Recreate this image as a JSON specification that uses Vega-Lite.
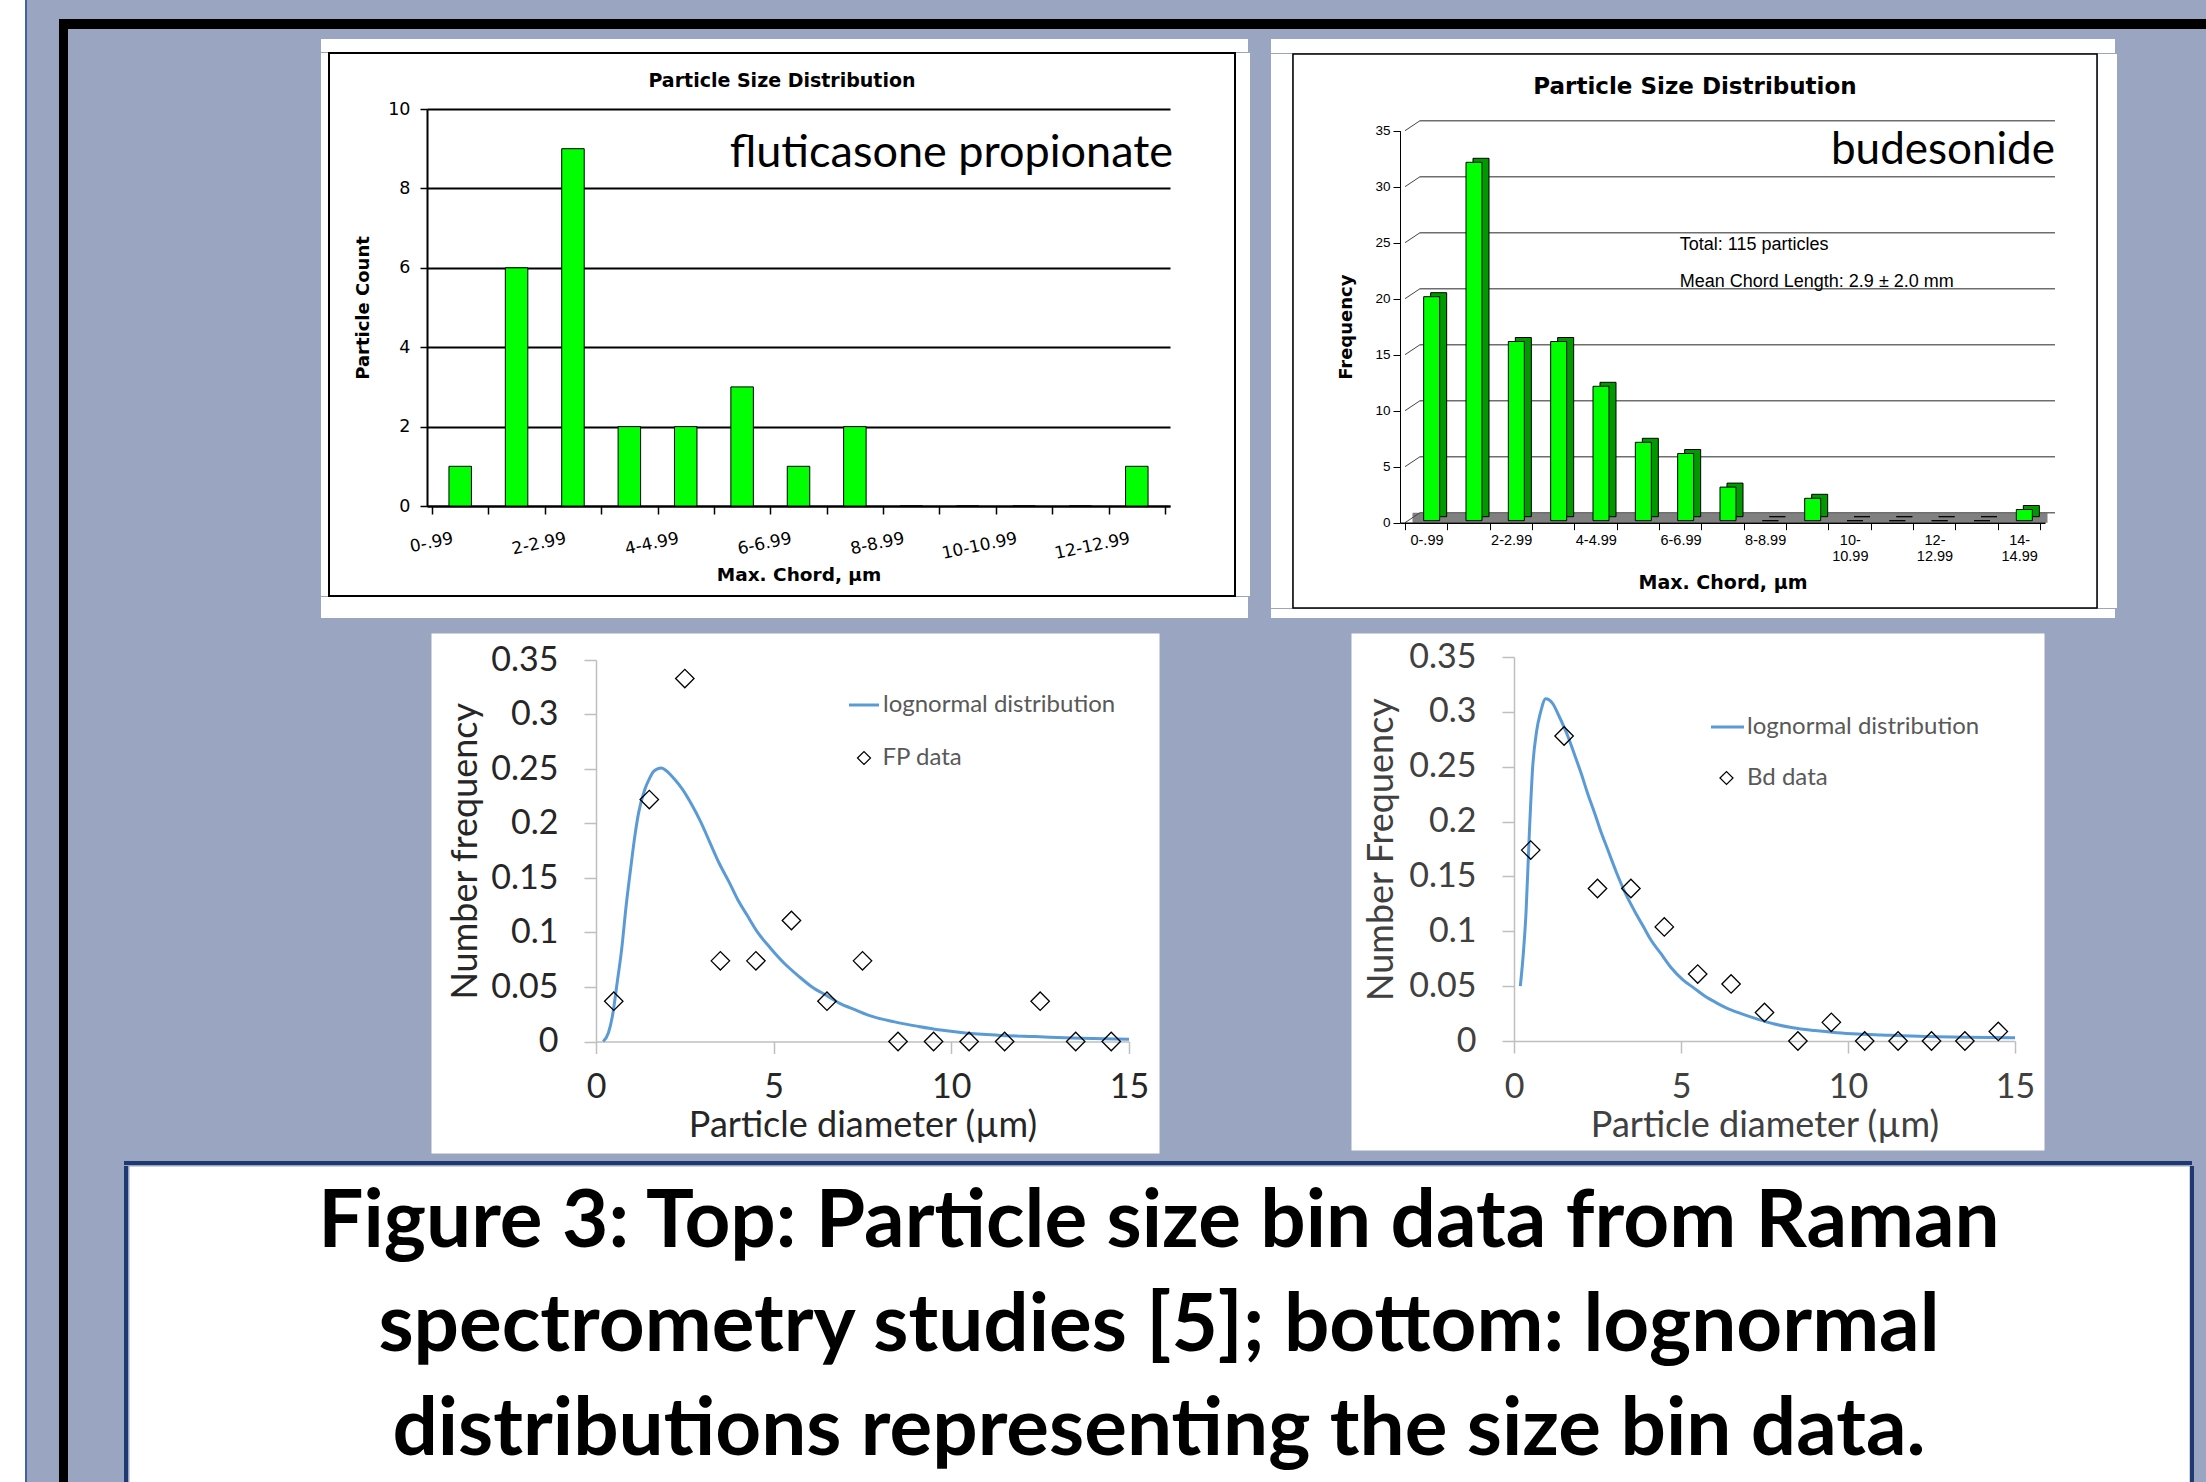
{
"$schema": "https://vega.github.io/schema/vega-lite/v6.json",
"background": "#9AA6C1",
"padding": 0,
"spacing": 0,
"config": {
  "view": {"stroke": "transparent"},
  "concat": {"spacing": 0},
  "axis": {"labelFlush": false, "labelOverlap": false, "grid": false}
},
"datasets": {
  "fp_bins": [
    {"bin": "0-.99", "mid": 0.5, "count": 1}, {"bin": "1-1.99", "mid": 1.5, "count": 6},
    {"bin": "2-2.99", "mid": 2.5, "count": 9}, {"bin": "3-3.99", "mid": 3.5, "count": 2},
    {"bin": "4-4.99", "mid": 4.5, "count": 2}, {"bin": "5-5.99", "mid": 5.5, "count": 3},
    {"bin": "6-6.99", "mid": 6.5, "count": 1}, {"bin": "7-7.99", "mid": 7.5, "count": 2},
    {"bin": "8-8.99", "mid": 8.5, "count": 0}, {"bin": "9-9.99", "mid": 9.5, "count": 0},
    {"bin": "10-10.99", "mid": 10.5, "count": 0}, {"bin": "11-11.99", "mid": 11.5, "count": 0},
    {"bin": "12-12.99", "mid": 12.5, "count": 1}
  ],
  "bd_bins": [
    {"bin": "0-.99", "mid": 0.5, "count": 20}, {"bin": "1-1.99", "mid": 1.5, "count": 32},
    {"bin": "2-2.99", "mid": 2.5, "count": 16}, {"bin": "3-3.99", "mid": 3.5, "count": 16},
    {"bin": "4-4.99", "mid": 4.5, "count": 12}, {"bin": "5-5.99", "mid": 5.5, "count": 7},
    {"bin": "6-6.99", "mid": 6.5, "count": 6}, {"bin": "7-7.99", "mid": 7.5, "count": 3},
    {"bin": "8-8.99", "mid": 8.5, "count": 0}, {"bin": "9-9.99", "mid": 9.5, "count": 2},
    {"bin": "10-10.99", "mid": 10.5, "count": 0}, {"bin": "11-11.99", "mid": 11.5, "count": 0},
    {"bin": "12-12.99", "mid": 12.5, "count": 0}, {"bin": "13-13.99", "mid": 13.5, "count": 0},
    {"bin": "14-14.99", "mid": 14.5, "count": 1}
  ],
  "bd_grid": [{"level": 0}, {"level": 5}, {"level": 10}, {"level": 15}, {"level": 20}, {"level": 25}, {"level": 30}, {"level": 35}],
  "fp_points": [
    {"d": 0.5, "freq": 0.037}, {"d": 1.5, "freq": 0.222}, {"d": 2.5, "freq": 0.333}, {"d": 3.5, "freq": 0.074},
    {"d": 4.5, "freq": 0.074}, {"d": 5.5, "freq": 0.111}, {"d": 6.5, "freq": 0.037}, {"d": 7.5, "freq": 0.074},
    {"d": 8.5, "freq": 0}, {"d": 9.5, "freq": 0}, {"d": 10.5, "freq": 0}, {"d": 11.5, "freq": 0},
    {"d": 12.5, "freq": 0.037}, {"d": 13.5, "freq": 0}, {"d": 14.5, "freq": 0}
  ],
  "bd_points": [
    {"d": 0.5, "freq": 0.174}, {"d": 1.5, "freq": 0.278}, {"d": 2.5, "freq": 0.139}, {"d": 3.5, "freq": 0.139},
    {"d": 4.5, "freq": 0.104}, {"d": 5.5, "freq": 0.061}, {"d": 6.5, "freq": 0.052}, {"d": 7.5, "freq": 0.026},
    {"d": 8.5, "freq": 0}, {"d": 9.5, "freq": 0.017}, {"d": 10.5, "freq": 0}, {"d": 11.5, "freq": 0},
    {"d": 12.5, "freq": 0}, {"d": 13.5, "freq": 0}, {"d": 14.5, "freq": 0.0087}
  ],
  "fp_curve": [
    {"d": 0.2, "freq": 0}, {"d": 0.35, "freq": 0.008}, {"d": 0.46, "freq": 0.023}, {"d": 0.6, "freq": 0.055},
    {"d": 0.72, "freq": 0.084}, {"d": 0.85, "freq": 0.125}, {"d": 0.98, "freq": 0.16}, {"d": 1.1, "freq": 0.19},
    {"d": 1.2, "freq": 0.21}, {"d": 1.37, "freq": 0.231}, {"d": 1.5, "freq": 0.241}, {"d": 1.63, "freq": 0.248},
    {"d": 1.83, "freq": 0.251}, {"d": 2.03, "freq": 0.247}, {"d": 2.2, "freq": 0.241}, {"d": 2.42, "freq": 0.232},
    {"d": 2.7, "freq": 0.217}, {"d": 2.94, "freq": 0.202}, {"d": 3.2, "freq": 0.183}, {"d": 3.46, "freq": 0.164},
    {"d": 3.75, "freq": 0.146}, {"d": 3.99, "freq": 0.13}, {"d": 4.25, "freq": 0.116}, {"d": 4.51, "freq": 0.102},
    {"d": 4.9, "freq": 0.086}, {"d": 5.29, "freq": 0.072}, {"d": 5.7, "freq": 0.06}, {"d": 6.08, "freq": 0.05},
    {"d": 6.5, "freq": 0.042}, {"d": 6.86, "freq": 0.035}, {"d": 7.3, "freq": 0.029}, {"d": 7.77, "freq": 0.023},
    {"d": 8.4, "freq": 0.018}, {"d": 9.08, "freq": 0.0138}, {"d": 9.7, "freq": 0.0105}, {"d": 10.39, "freq": 0.0078},
    {"d": 11.3, "freq": 0.0058}, {"d": 12.35, "freq": 0.0045}, {"d": 13.65, "freq": 0.003}, {"d": 15, "freq": 0.002}
  ],
  "bd_curve": [
    {"d": 0.19, "freq": 0.05}, {"d": 0.28, "freq": 0.08}, {"d": 0.36, "freq": 0.117}, {"d": 0.46, "freq": 0.19},
    {"d": 0.56, "freq": 0.25}, {"d": 0.68, "freq": 0.283}, {"d": 0.79, "freq": 0.299}, {"d": 0.95, "freq": 0.312},
    {"d": 1.15, "freq": 0.308}, {"d": 1.35, "freq": 0.296}, {"d": 1.61, "freq": 0.278}, {"d": 1.8, "freq": 0.262},
    {"d": 2.01, "freq": 0.244}, {"d": 2.2, "freq": 0.226}, {"d": 2.41, "freq": 0.208}, {"d": 2.6, "freq": 0.191},
    {"d": 2.8, "freq": 0.175}, {"d": 3.05, "freq": 0.155}, {"d": 3.33, "freq": 0.135}, {"d": 3.6, "freq": 0.119},
    {"d": 3.86, "freq": 0.105}, {"d": 4.1, "freq": 0.092}, {"d": 4.39, "freq": 0.08}, {"d": 4.7, "freq": 0.067},
    {"d": 5.05, "freq": 0.056}, {"d": 5.4, "freq": 0.048}, {"d": 5.71, "freq": 0.041}, {"d": 6.05, "freq": 0.035},
    {"d": 6.37, "freq": 0.03}, {"d": 6.8, "freq": 0.025}, {"d": 7.29, "freq": 0.02}, {"d": 7.8, "freq": 0.0155},
    {"d": 8.35, "freq": 0.012}, {"d": 9.0, "freq": 0.0095}, {"d": 9.67, "freq": 0.0076}, {"d": 10.3, "freq": 0.0064},
    {"d": 11.0, "freq": 0.0055}, {"d": 12.32, "freq": 0.004}, {"d": 13.5, "freq": 0.0035}, {"d": 15, "freq": 0.003}
  ]
},
"hconcat": [
  {"width": 25, "height": 1482, "data": {"values": []}, "mark": "point", "view": {"fill": "white"}},
  {"width": 2, "height": 1482, "data": {"values": []}, "mark": "point", "view": {"fill": "#4062A4"}},
  {"width": 32, "height": 1482, "data": {"values": []}, "mark": "point"},
  {"spacing": 0, "vconcat": [
    {"width": 2147, "height": 19, "data": {"values": []}, "mark": "point"},
    {"width": 2147, "height": 10, "data": {"values": []}, "mark": "point", "view": {"fill": "black"}},
    {"spacing": 0, "hconcat": [
      {"width": 9, "height": 1453, "data": {"values": []}, "mark": "point", "view": {"fill": "black"}},
      {"spacing": 0, "vconcat": [
        {"width": 10, "height": 10, "data": {"values": []}, "mark": "point"},
        {"spacing": 0, "hconcat": [
          {"width": 253, "height": 577, "data": {"values": []}, "mark": "point"},
          {"spacing": 0, "vconcat": [
            {"width": 927, "height": 13, "data": {"values": []}, "mark": "point", "view": {"fill": "white"}},
            {"spacing": 0, "hconcat": [
              {"width": 7, "height": 543, "data": {"values": []}, "mark": "point", "view": {"fill": "white"}},
              {
                "width": 906, "height": 543,
                "view": {"fill": "white", "stroke": "black", "strokeWidth": 2},
                "layer": [
                  {
                    "data": {"name": "fp_bins"},
                    "mark": {"type": "bar", "size": 22.5, "fill": "#00FF00", "stroke": "black", "strokeWidth": 1},
                    "encoding": {
                      "x": {"field": "mid", "type": "quantitative",
                        "scale": {"domain": [0, 13], "range": [98, 841], "nice": false, "zero": false},
                        "axis": {"orient": "bottom", "offset": -90, "values": [0,1,2,3,4,5,6,7,8,9,10,11,12,13],
                          "domainColor": "black", "domainWidth": 2, "tickColor": "black", "tickWidth": 1.5, "tickSize": 8,
                          "labelExpr": "datum.value % 2 == 0 && datum.value < 13 ? (datum.value == 0 ? '0-.99' : datum.value + '-' + datum.value + '.99') : ''",
                          "labelAngle": -12, "labelAlign": "right", "labelBaseline": "top", "labelOffset": 19, "labelPadding": 16,
                          "labelFont": "DejaVu Sans", "labelFontSize": 17, "labelColor": "black",
                          "title": "Max. Chord, µm", "titleFont": "DejaVu Sans", "titleFontSize": 18.5, "titleFontWeight": "bold",
                          "titleColor": "black", "titlePadding": 4}},
                      "y": {"field": "count", "type": "quantitative",
                        "scale": {"domain": [0, 10], "range": [453, 56], "nice": false},
                        "axis": {"orient": "left", "offset": -98, "values": [0,2,4,6,8,10],
                          "grid": true, "gridColor": "black", "gridWidth": 2,
                          "domainColor": "black", "domainWidth": 2, "tickColor": "black", "tickWidth": 1.5, "tickSize": 7,
                          "labelFont": "DejaVu Sans", "labelFontSize": 17.5, "labelColor": "black", "labelPadding": 10,
                          "title": "Particle Count", "titleFont": "DejaVu Sans", "titleFontSize": 18, "titleFontWeight": "bold",
                          "titleColor": "black", "titlePadding": 15}}
                    }
                  },
                  {
                    "data": {"values": [{"note": "fluticasone propionate"}]},
                    "mark": {"type": "text", "align": "right", "baseline": "alphabetic", "font": "Lato", "fontSize": 45, "dx": 8, "color": "black"},
                    "encoding": {"x": {"datum": 13, "type": "quantitative"}, "y": {"datum": 8.55, "type": "quantitative"}, "text": {"field": "note", "type": "nominal"}}
                  },
                  {
                    "data": {"values": [{"note": "Particle Size Distribution"}]},
                    "mark": {"type": "text", "baseline": "middle", "font": "DejaVu Sans", "fontSize": 19, "fontWeight": "bold", "color": "black"},
                    "encoding": {"y": {"datum": 10.7, "type": "quantitative"}, "text": {"field": "note", "type": "nominal"}}
                  }
                ]
              },
              {"width": 14, "height": 543, "data": {"values": []}, "mark": "point", "view": {"fill": "white"}}
            ]},
            {"width": 927, "height": 21, "data": {"values": []}, "mark": "point", "view": {"fill": "white"}}
          ]},
          {"width": 21, "height": 577, "data": {"values": []}, "mark": "point"},
          {"spacing": 0, "vconcat": [
            {"width": 844, "height": 14, "data": {"values": []}, "mark": "point", "view": {"fill": "white"}},
            {"spacing": 0, "hconcat": [
              {"width": 21, "height": 554, "data": {"values": []}, "mark": "point", "view": {"fill": "white"}},
              {
                "width": 804, "height": 554,
                "view": {"fill": "white", "stroke": "black", "strokeWidth": 1.5},
                "layer": [
                  {
                    "data": {"values": [{}]},
                    "mark": {"type": "rule", "color": "#808080", "strokeWidth": 10, "strokeCap": "butt", "xOffset": 7.5, "x2Offset": 7.5, "yOffset": -5},
                    "encoding": {"x": {"datum": 0, "type": "quantitative"}, "x2": {"datum": 15}, "y": {"datum": 0, "type": "quantitative"}}
                  },
                  {
                    "data": {"name": "bd_grid"},
                    "mark": {"type": "rule", "color": "#444444", "strokeWidth": 1, "x2Offset": 15, "y2Offset": -10},
                    "encoding": {"x": {"datum": 0, "type": "quantitative"}, "x2": {"datum": 0}, "y": {"field": "level", "type": "quantitative", "title": "Frequency"}, "y2": {"field": "level"}}
                  },
                  {
                    "data": {"name": "bd_grid"},
                    "mark": {"type": "rule", "color": "#6E6E6E", "strokeWidth": 1.5, "xOffset": 15, "x2Offset": 15, "yOffset": -10},
                    "encoding": {"x": {"datum": 0, "type": "quantitative"}, "x2": {"datum": 15}, "y": {"field": "level", "type": "quantitative", "title": "Frequency"}}
                  },
                  {
                    "data": {"name": "bd_bins"},
                    "mark": {"type": "bar", "size": 16, "fill": "#009A00", "stroke": "black", "strokeWidth": 1, "xOffset": 12.5, "yOffset": -6, "y2Offset": -6},
                    "encoding": {"x": {"field": "mid", "type": "quantitative", "title": "Max. Chord, µm"}, "y": {"field": "count", "type": "quantitative", "title": "Frequency"}}
                  },
                  {
                    "data": {"name": "bd_bins"},
                    "mark": {"type": "bar", "size": 16, "fill": "#00FF00", "stroke": "black", "strokeWidth": 1, "xOffset": 5.5, "yOffset": -2, "y2Offset": -2},
                    "encoding": {
                      "x": {"field": "mid", "type": "quantitative",
                        "scale": {"domain": [0, 15], "range": [107, 752], "nice": false, "zero": false},
                        "axis": {"orient": "bottom", "offset": -85.3, "zindex": 1, "values": [0,1,2,3,4,5,6,7,8,9,10,11,12,13,14,15],
                          "domainColor": "black", "domainWidth": 1.5, "tickColor": "black", "tickWidth": 1, "tickSize": 7,
                          "labelExpr": "datum.value % 2 == 1 || datum.value >= 15 ? '' : datum.value == 0 ? '0-.99' : datum.value < 10 ? datum.value + '-' + datum.value + '.99' : [datum.value + '-', datum.value + '.99']",
                          "labelAngle": 0, "labelAlign": "center", "labelBaseline": "top", "labelOffset": 21.5, "labelPadding": 4,
                          "labelFont": "Liberation Sans", "labelFontSize": 14.5, "labelLineHeight": 15.5, "labelColor": "black",
                          "title": "Max. Chord, µm", "titleFont": "DejaVu Sans", "titleFontSize": 19, "titleFontWeight": "bold",
                          "titleColor": "black", "titlePadding": 11}},
                      "y": {"field": "count", "type": "quantitative",
                        "scale": {"domain": [0, 35], "range": [468.7, 76.7], "nice": false},
                        "axis": {"orient": "left", "offset": -107, "zindex": 1, "values": [0,5,10,15,20,25,30,35],
                          "domainColor": "black", "domainWidth": 1, "tickColor": "black", "tickWidth": 1, "tickSize": 7,
                          "labelFont": "Liberation Sans", "labelFontSize": 13.5, "labelColor": "black", "labelPadding": 3,
                          "title": "Frequency", "titleFont": "DejaVu Sans", "titleFontSize": 18, "titleFontWeight": "bold",
                          "titleColor": "black", "titlePadding": 19}}
                    }
                  },
                  {
                    "data": {"values": [{"note": "Particle Size Distribution"}]},
                    "mark": {"type": "text", "baseline": "middle", "font": "DejaVu Sans", "fontSize": 23, "fontWeight": "bold", "color": "black"},
                    "encoding": {"y": {"datum": 38.9, "type": "quantitative"}, "text": {"field": "note", "type": "nominal"}}
                  },
                  {
                    "data": {"values": [{"note": "budesonide"}]},
                    "mark": {"type": "text", "align": "right", "baseline": "alphabetic", "font": "Lato", "fontSize": 44, "dx": 15, "color": "black"},
                    "encoding": {"x": {"datum": 15, "type": "quantitative"}, "y": {"datum": 32.03, "type": "quantitative"}, "text": {"field": "note", "type": "nominal"}}
                  },
                  {
                    "data": {"values": [{"note": "Total: 115 particles"}]},
                    "mark": {"type": "text", "align": "left", "baseline": "middle", "font": "Liberation Sans", "fontSize": 18, "color": "black"},
                    "encoding": {"x": {"datum": 6.49, "type": "quantitative"}, "y": {"datum": 24.8, "type": "quantitative"}, "text": {"field": "note", "type": "nominal"}}
                  },
                  {
                    "data": {"values": [{"note": "Mean Chord Length: 2.9 ± 2.0 mm"}]},
                    "mark": {"type": "text", "align": "left", "baseline": "middle", "font": "Liberation Sans", "fontSize": 18, "color": "black"},
                    "encoding": {"x": {"datum": 6.49, "type": "quantitative"}, "y": {"datum": 21.5, "type": "quantitative"}, "text": {"field": "note", "type": "nominal"}}
                  }
                ]
              },
              {"width": 19, "height": 554, "data": {"values": []}, "mark": "point", "view": {"fill": "white"}}
            ]},
            {"width": 844, "height": 9, "data": {"values": []}, "mark": "point", "view": {"fill": "white"}}
          ]}
        ]},
        {"width": 10, "height": 14, "data": {"values": []}, "mark": "point"},
        {"spacing": 0,
         "resolve": {"scale": {"color": "independent", "shape": "independent"}, "legend": {"color": "independent", "shape": "independent"}},
         "hconcat": [
          {"width": 362, "height": 520, "data": {"values": []}, "mark": "point"},
          {
            "width": 728, "height": 520,
            "view": {"fill": "white", "stroke": "transparent"},
            "layer": [
              {
                "data": {"name": "fp_curve"},
                "mark": {"type": "line", "strokeWidth": 3, "interpolate": "monotone"},
                "encoding": {
                  "x": {"field": "d", "type": "quantitative",
                    "scale": {"domain": [0, 15], "range": [165, 698], "nice": false, "zero": false},
                    "axis": {"orient": "bottom", "offset": -111.5, "values": [0, 5, 10, 15],
                      "domainColor": "#BFBFBF", "domainWidth": 1.5, "tickColor": "#BFBFBF", "tickWidth": 1.5, "tickSize": 12,
                      "labelFont": "Lato", "labelFontSize": 34, "labelColor": "#262626", "labelPadding": 17,
                      "title": "Particle diameter (µm)", "titleFont": "Lato", "titleFontSize": 36, "titleFontWeight": "normal",
                      "titleColor": "#262626", "titlePadding": 4}},
                  "y": {"field": "freq", "type": "quantitative",
                    "scale": {"domain": [0, 0.35], "range": [408.5, 27], "nice": false},
                    "axis": {"orient": "left", "offset": -165, "values": [0, 0.05, 0.1, 0.15, 0.2, 0.25, 0.3, 0.35], "format": "~g",
                      "domainColor": "#BFBFBF", "domainWidth": 1.5, "tickColor": "#BFBFBF", "tickWidth": 1.5, "tickSize": 12,
                      "labelFont": "Lato", "labelFontSize": 34, "labelColor": "#262626", "labelPadding": 26,
                      "title": "Number frequency", "titleFont": "Lato", "titleFontSize": 36, "titleFontWeight": "normal",
                      "titleColor": "#262626", "titlePadding": 6}},
                  "color": {"datum": "lognormal distribution", "scale": {"range": ["#5B9BD5"]},
                    "legend": {"orient": "none", "legendX": 416.5, "legendY": 55.5, "title": null, "padding": 0,
                      "symbolType": "stroke", "symbolSize": 900, "symbolStrokeWidth": 3,
                      "labelFont": "Lato", "labelFontSize": 24, "labelColor": "#595959", "labelOffset": 2.5, "labelLimit": 400}}
                }
              },
              {
                "data": {"name": "fp_points"},
                "mark": {"type": "point", "filled": false, "stroke": "black", "strokeWidth": 1.3, "size": 340, "opacity": 1},
                "encoding": {
                  "x": {"field": "d", "type": "quantitative", "title": "Particle diameter (µm)"},
                  "y": {"field": "freq", "type": "quantitative", "title": "Number frequency"},
                  "shape": {"datum": "FP data", "scale": {"range": ["diamond"]},
                    "legend": {"orient": "none", "legendX": 421, "legendY": 113, "title": null, "padding": 0,
                      "symbolSize": 170, "symbolStrokeColor": "black", "symbolFillColor": "transparent", "symbolStrokeWidth": 1.2,
                      "labelFont": "Lato", "labelFontSize": 24, "labelColor": "#595959", "labelOffset": 6.5, "labelLimit": 400}}
                }
              }
            ]
          },
          {"width": 190, "height": 520, "data": {"values": []}, "mark": "point"},
          {
            "width": 693, "height": 517,
            "view": {"fill": "white", "stroke": "transparent"},
            "layer": [
              {
                "data": {"name": "bd_curve"},
                "mark": {"type": "line", "strokeWidth": 3, "interpolate": "monotone"},
                "encoding": {
                  "x": {"field": "d", "type": "quantitative",
                    "scale": {"domain": [0, 15], "range": [163, 664], "nice": false, "zero": false},
                    "axis": {"orient": "bottom", "offset": -109, "values": [0, 5, 10, 15],
                      "domainColor": "#BFBFBF", "domainWidth": 1.5, "tickColor": "#BFBFBF", "tickWidth": 1.5, "tickSize": 12,
                      "labelFont": "Lato", "labelFontSize": 34, "labelColor": "#404040", "labelPadding": 17,
                      "title": "Particle diameter (µm)", "titleFont": "Lato", "titleFontSize": 36, "titleFontWeight": "normal",
                      "titleColor": "#404040", "titlePadding": 4}},
                  "y": {"field": "freq", "type": "quantitative",
                    "scale": {"domain": [0, 0.35], "range": [408, 24], "nice": false},
                    "axis": {"orient": "left", "offset": -163, "values": [0, 0.05, 0.1, 0.15, 0.2, 0.25, 0.3, 0.35], "format": "~g",
                      "domainColor": "#BFBFBF", "domainWidth": 1.5, "tickColor": "#BFBFBF", "tickWidth": 1.5, "tickSize": 12,
                      "labelFont": "Lato", "labelFontSize": 34, "labelColor": "#404040", "labelPadding": 26,
                      "title": "Number Frequency", "titleFont": "Lato", "titleFontSize": 36, "titleFontWeight": "normal",
                      "titleColor": "#404040", "titlePadding": 8}},
                  "color": {"datum": "lognormal distribution", "scale": {"range": ["#5B9BD5"]},
                    "legend": {"orient": "none", "legendX": 358.5, "legendY": 76, "title": null, "padding": 0,
                      "symbolType": "stroke", "symbolSize": 1089, "symbolStrokeWidth": 3,
                      "labelFont": "Lato", "labelFontSize": 24, "labelColor": "#595959", "labelOffset": 1.5, "labelLimit": 400}}
                }
              },
              {
                "data": {"name": "bd_points"},
                "mark": {"type": "point", "filled": false, "stroke": "black", "strokeWidth": 1.3, "size": 340, "opacity": 1},
                "encoding": {
                  "x": {"field": "d", "type": "quantitative", "title": "Particle diameter (µm)"},
                  "y": {"field": "freq", "type": "quantitative", "title": "Number Frequency"},
                  "shape": {"datum": "Bd data", "scale": {"range": ["diamond"]},
                    "legend": {"orient": "none", "legendX": 363.5, "legendY": 133, "title": null, "padding": 0,
                      "symbolSize": 170, "symbolStrokeColor": "black", "symbolFillColor": "transparent", "symbolStrokeWidth": 1.2,
                      "labelFont": "Lato", "labelFontSize": 24, "labelColor": "#595959", "labelOffset": 8.5, "labelLimit": 400}}
                }
              }
            ]
          }
        ]},
        {"width": 10, "height": 7, "data": {"values": []}, "mark": "point"},
        {"spacing": 0, "hconcat": [
          {"width": 56, "height": 325, "data": {"values": []}, "mark": "point"},
          {"spacing": 0, "vconcat": [
            {"width": 2068, "height": 4, "data": {"values": []}, "mark": "point", "view": {"fill": "#1F3A70"}},
            {"spacing": 0, "hconcat": [
              {"width": 4, "height": 321, "data": {"values": []}, "mark": "point", "view": {"fill": "#1F3A70"}},
              {
                "width": 2060, "height": 321,
                "view": {"fill": "white", "stroke": "transparent"},
                "data": {"values": [{"caption": "Figure 3: Top: Particle size bin data from Raman\nspectrometry studies [5]; bottom: lognormal\ndistributions representing the size bin data."}]},
                "mark": {"type": "text", "lineBreak": "\n", "font": "Lato", "fontWeight": "bold", "fontSize": 80, "lineHeight": 104, "align": "center", "baseline": "middle", "dy": -104, "color": "black"},
                "encoding": {"text": {"field": "caption", "type": "nominal"}}
              },
              {"width": 4, "height": 321, "data": {"values": []}, "mark": "point", "view": {"fill": "#1F3A70"}}
            ]}
          ]}
        ]}
      ]}
    ]}
  ]}
]
}
